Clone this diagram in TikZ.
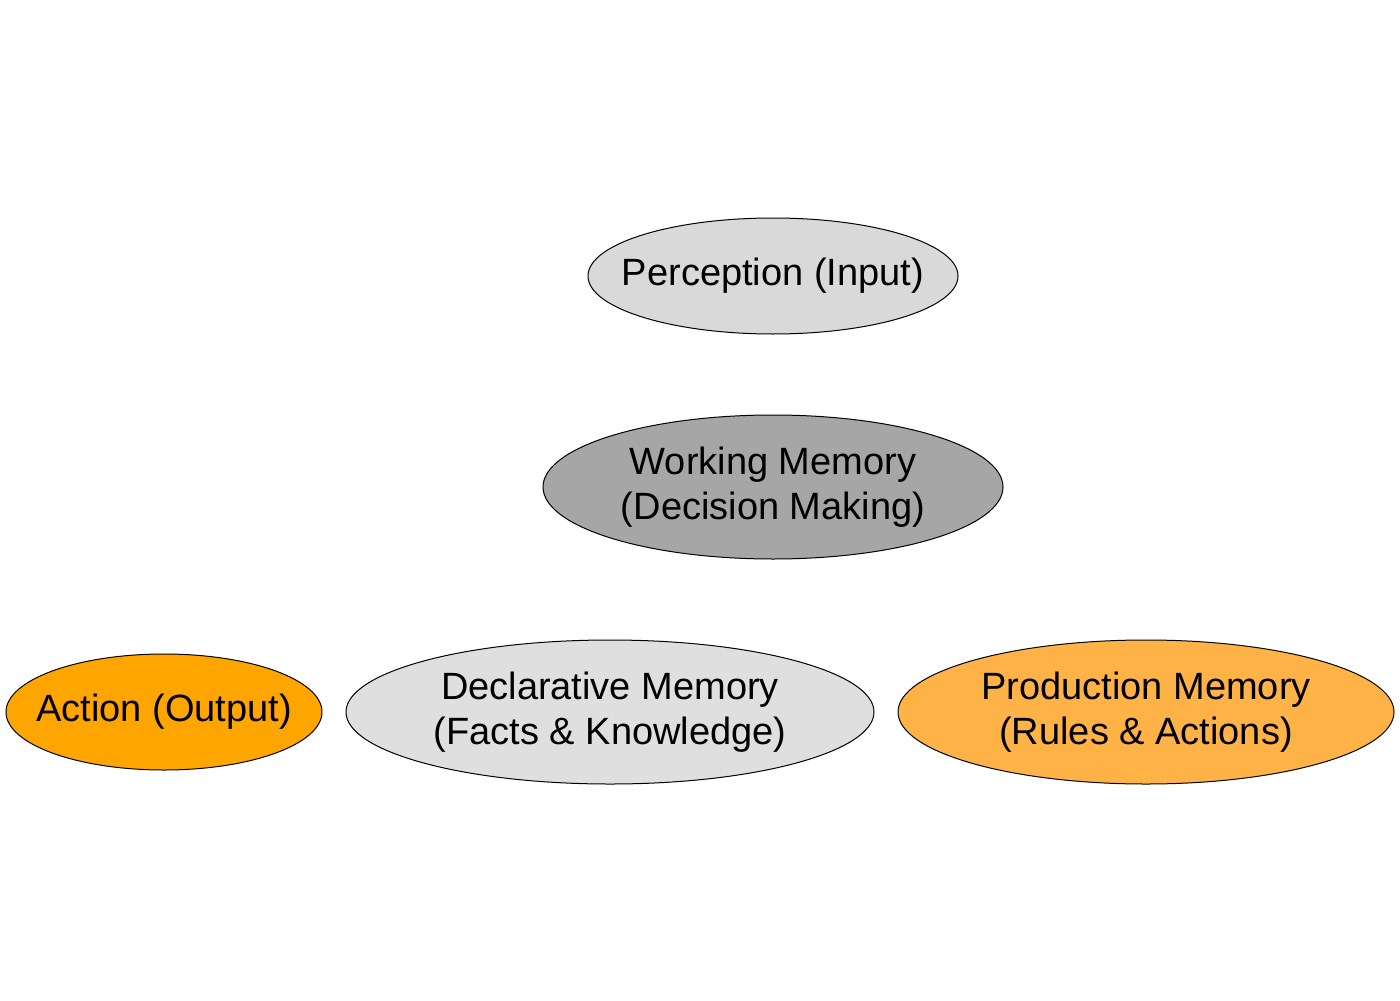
\documentclass[tikz,border=0pt]{standalone}
\usepackage{fontspec}
\setmainfont{Liberation Sans}
\usetikzlibrary{shapes.geometric}
\definecolor{percgray}{HTML}{D9D9D9}
\definecolor{workgray}{HTML}{A6A6A6}
\definecolor{declgray}{HTML}{DFDFDF}
\definecolor{actorange}{HTML}{FFA500}
\definecolor{prodorange}{HTML}{FFB347}
\begin{document}
\begin{tikzpicture}[x=0.5pt,y=-0.5pt]
\tikzstyle{every node}+=[inner ysep=0pt,inner xsep=-12pt]
\tikzstyle{blob}=[ellipse,draw=black,line width=0.5pt,align=center,
  font=\fontsize{19}{22.5}\selectfont]
\useasboundingbox (0,0) rectangle (1400,1000);
\node [blob,fill=percgray,minimum width=185pt,minimum height=58pt] (perc) at (773,276) {Perception (Input)};
\node [blob,fill=workgray,minimum width=230pt,minimum height=72pt] (work) at (773,487) {Working Memory\\(Decision Making)};
\node [blob,fill=actorange,minimum width=158pt,minimum height=58pt] (act) at (164,712) {Action (Output)};
\node [blob,fill=declgray,minimum width=264pt,minimum height=72pt] (decl) at (610,712) {Declarative Memory\\(Facts \& Knowledge)};
\node [blob,fill=prodorange,minimum width=248pt,minimum height=72pt] (prod) at (1146,712) {Production Memory\\(Rules \& Actions)};
\end{tikzpicture}
\end{document}
